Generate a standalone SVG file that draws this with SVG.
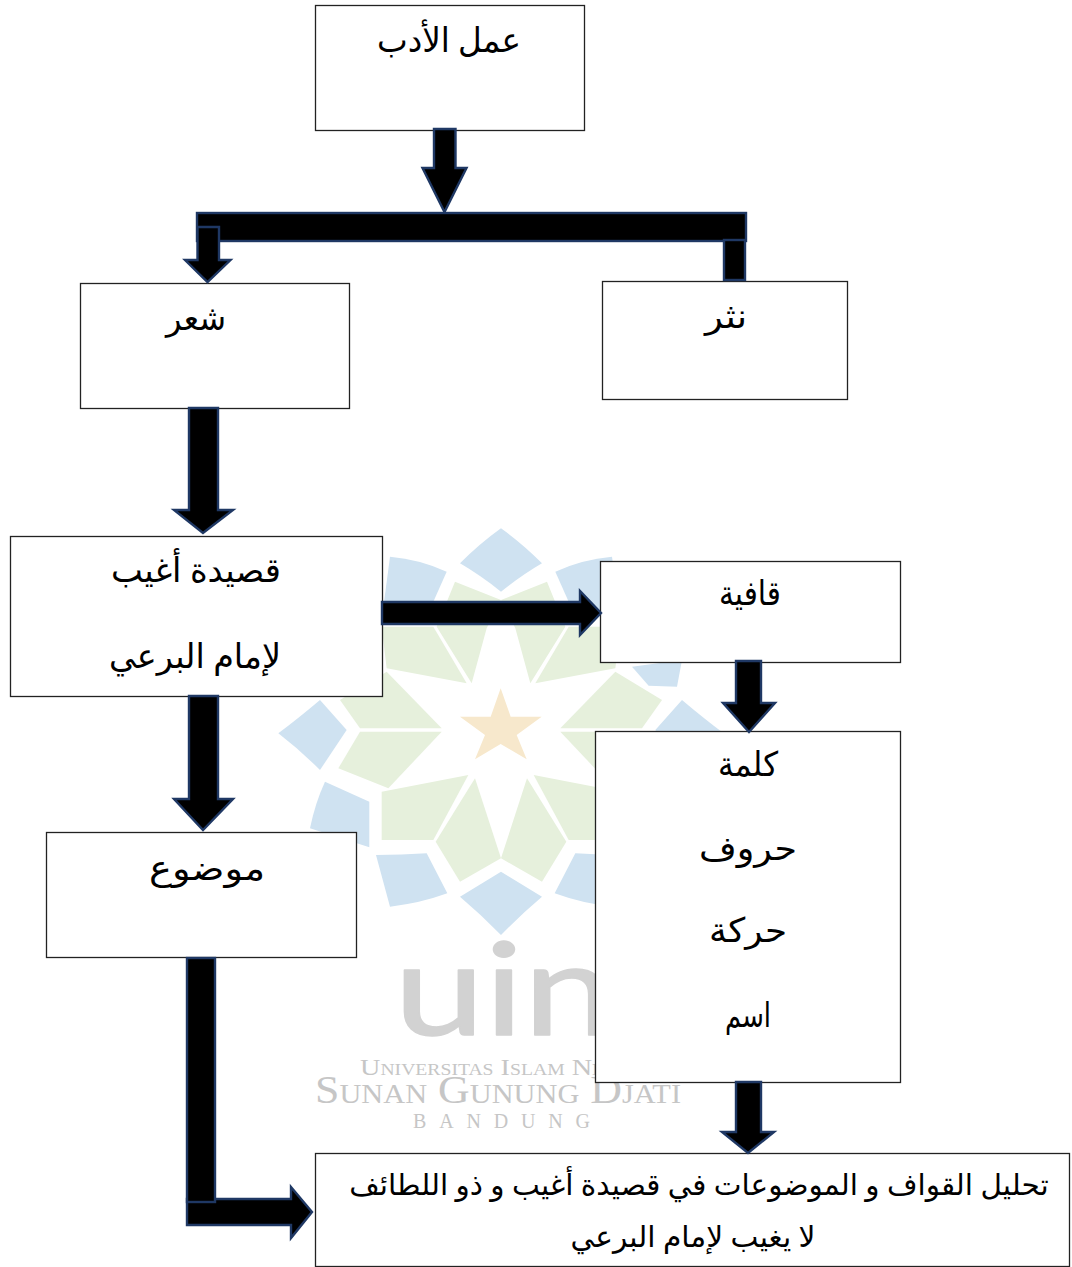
<svg xmlns="http://www.w3.org/2000/svg" width="1072" height="1267" viewBox="0 0 1072 1267">
<style>
.box{fill:#fff;stroke:#222;stroke-width:1.3}
.arr{fill:#000;stroke:#1f3864;stroke-width:2.4}
.t{font-family:"Liberation Serif","DejaVu Sans",sans-serif;font-size:34px;fill:#000;text-anchor:middle;direction:rtl}
.s{font-size:29.500px}
.b{fill:#cfe2f1}.g{fill:#e6f0dc}
.wm{font-family:"Liberation Serif",serif;fill:#c6c6c6;font-variant:small-caps}
</style>
<defs>
<g id="half">
<path class="b" d="M693,25 Q630,70 570,130 Q630,165 693,215Z"/>
<path class="b" d="M360,110 Q450,118 530,155 L490,245 L335,300Z"/>
<path class="b" d="M150,540 L230,630 L150,750 Q90,690 25,640 Q85,595 150,540Z"/>
<polygon class="b" points="150,420 300,440 250,497 165,500"/>
<path class="b" d="M165,785 L298,845 L298,982 L120,925 Q135,850 165,785Z"/>
<path class="b" d="M318,1005 Q395,1005 470,1000 L532,1120 Q450,1150 360,1160Z"/>
<path class="b" d="M693,1055 L693,1245 Q635,1185 570,1130Z"/>
<polygon class="g" points="555,185 693,240 650,325 605,490 500,320"/>
<polygon class="g" points="335,320 490,320 590,490 350,445"/>
<polygon class="g" points="350,455 515,625 270,625 210,540"/>
<polygon class="g" points="270,635 515,635 355,805 205,745"/>
<polygon class="g" points="335,815 595,765 490,960 335,960"/>
<polygon class="g" points="497,965 615,775 693,1015 570,1085"/>
</g>
</defs>
<g id="watermark">
<g transform="translate(270,520) scale(0.33333)">
<use href="#half"/>
<use href="#half" transform="translate(1386,0) scale(-1,1)"/>
<polygon fill="#f7e8cc" points="692,505 722,590 815,590 740,645 770,718 692,672 615,718 645,645 570,590 662,590"/>
</g>
<text x="394" y="1035" font-family="Lato,sans-serif" font-weight="400" font-size="128" fill="#d2d2d2" stroke="#d2d2d2" stroke-width="1.500" stroke-linejoin="round" textLength="220" lengthAdjust="spacingAndGlyphs">uin</text>
<text class="wm" x="360" y="1075" font-size="23" textLength="290" lengthAdjust="spacingAndGlyphs">Universitas Islam Negeri</text>
<text class="wm" x="315" y="1103" font-size="39" textLength="366" lengthAdjust="spacingAndGlyphs">Sunan Gunung Djati</text>
<text class="wm" x="413" y="1128" font-size="20" textLength="177" lengthAdjust="spacing">BANDUNG</text>
</g>
<g id="n-adab"><rect class="box" x="315.500" y="5.500" width="269" height="125"/><text class="t" x="449" y="52" textLength="144" lengthAdjust="spacingAndGlyphs">عمل الأدب</text></g>
<g id="n-shir"><rect class="box" x="80.500" y="283.500" width="269" height="125"/><text class="t" x="196" y="330" textLength="60" lengthAdjust="spacingAndGlyphs">شعر</text></g>
<g id="n-nathr"><rect class="box" x="602.500" y="281.500" width="245" height="118"/><text class="t" x="726" y="328" textLength="42" lengthAdjust="spacingAndGlyphs">نثر</text></g>
<g id="n-qasida"><rect class="box" x="10.500" y="536.500" width="372" height="160"/><text class="t" x="196" y="582" textLength="170" lengthAdjust="spacingAndGlyphs">قصيدة أغيب</text><text class="t" x="195" y="668" textLength="172" lengthAdjust="spacingAndGlyphs">لإمام البرعي</text></g>
<g id="n-qafiya"><rect class="box" x="600.500" y="561.500" width="300" height="101"/><text class="t" x="750" y="605" textLength="62" lengthAdjust="spacingAndGlyphs">قافية</text></g>
<g id="n-kalima"><rect class="box" x="595.500" y="731.500" width="305" height="351"/><text class="t" x="748" y="776" textLength="60" lengthAdjust="spacingAndGlyphs">كلمة</text><text class="t" x="748" y="860" textLength="98" lengthAdjust="spacingAndGlyphs">حروف</text><text class="t" x="748" y="942" textLength="78" lengthAdjust="spacingAndGlyphs">حركة</text><text class="t" x="748" y="1027" textLength="46" lengthAdjust="spacingAndGlyphs">اسم</text></g>
<g id="n-mawdu"><rect class="box" x="46.500" y="832.500" width="310" height="125"/><text class="t" x="207" y="880" textLength="116" lengthAdjust="spacingAndGlyphs">موضوع</text></g>
<g id="n-final"><rect class="box" x="315.500" y="1153.500" width="754" height="113"/><text class="t s" x="699" y="1195">تحليل القواف و الموضوعات في قصيدة أغيب و ذو اللطائف</text><text class="t s" x="693" y="1247" textLength="245" lengthAdjust="spacingAndGlyphs">لا يغيب لإمام البرعي</text></g>
<g id="connectors">
<polygon class="arr" points="434,129 455.500,129 455.500,168 466.500,168 444.500,212 422.500,168 434,168"/>
<rect class="arr" x="197" y="213" width="549" height="28"/>
<polygon class="arr" points="197.500,227 219,227 219,260 230.500,260 207.500,282 185,260 197.500,260"/>
<rect class="arr" x="724" y="240" width="21" height="40"/>
<polygon class="arr" points="189,408 218,408 218,510 233,510 203,533 174,510 189,510"/>
<polygon class="arr" points="382,602 580,602 580,591 601,613 580,635 580,624 382,624"/>
<polygon class="arr" points="189,696 218,696 218,799 233,799 203,830 174,799 189,799"/>
<polygon class="arr" points="736,661 761,661 761,703 775,703 749,732 723,703 736,703"/>
<polygon class="arr" points="736,1082 761,1082 761,1132 774,1132 748,1153 722,1132 736,1132"/>
<polygon class="arr" points="187,1199 291,1199 291,1187 312,1212 291,1238 291,1225 187,1225"/>
<rect class="arr" x="187" y="958" width="28" height="244"/>
</g>
</svg>
